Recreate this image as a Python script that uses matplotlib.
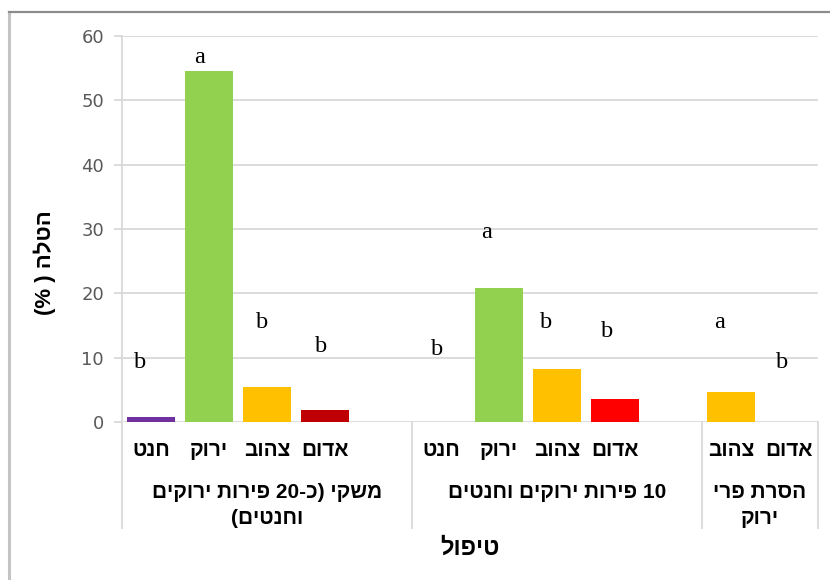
import re
import numpy as np
import matplotlib
matplotlib.use("Agg")
import matplotlib.pyplot as plt
import matplotlib.transforms as mtransforms
from matplotlib.lines import Line2D

HEB = ['Liberation Sans', 'DejaVu Sans']
SERIF = ['Liberation Serif', 'DejaVu Serif']

# treatment groups (x axis, second level)
groups = ["משקי (כ-20 פירות ירוקים\nוחנטים)", "10 פירות ירוקים וחנטים", "הסרת פרי\nירוק"]
# fruit colour classes inside each group (empty slot keeps excel spacing)
group_cats = [
    ["חנט", "ירוק", "צהוב", "אדום", ""],
    ["חנט", "ירוק", "צהוב", "אדום", ""],
    ["צהוב", "אדום"],
]
# drop (%)
group_values = [
    [0.7, 54.5, 5.4, 1.9, np.nan],
    [0.0, 20.8, 8.2, 3.6, np.nan],
    [4.6, 0.0],
]
group_colors = [
    ["#7030A0", "#92D050", "#FFC000", "#C00000", "none"],
    ["#7030A0", "#92D050", "#FFC000", "#FF0000", "none"],
    ["#FFC000", "#FF0000"],
]
# significance letters and the height they were written at
letters = [["b", "a", "b", "b", ""], ["b", "a", "b", "b", ""], ["a", "b"]]
letter_y = [[9.3, 56.6, 15.4, 11.7, 0], [11.2, 29.5, 15.4, 14.0, 0], [15.4, 9.3]]
letter_dx = [[-0.19, -0.16, -0.09, -0.07, 0], [-0.07, -0.22, -0.19, -0.14, 0], [-0.19, -0.12]]

yticks = [0, 10, 20, 30, 40, 50, 60]
ylabel = "הטלה ( %)"
xlabel = "טיפול"

GRID = "#d9d9d9"


def visual(s):
    # matplotlib has no bidi support: lay hebrew out right-to-left by hand
    out = s[::-1]
    out = re.sub(r"\d+", lambda m: m.group(0)[::-1], out)
    return out.translate(str.maketrans("()", ")("))


W, H = 830, 580
fig = plt.figure(figsize=(W / 100, H / 100), dpi=100)
ax = fig.add_axes([122 / W, 1 - 422 / H, 696 / W, 386 / H])
AX_H = 386


def below(px):
    # pixel row under the plot area -> axes fraction
    return -(px - 422) / AX_H


# slot positions
positions, values, colors, cat_labels = [], [], [], []
group_bounds = [-0.5]
slot = 0
for cats, vals, cols in zip(group_cats, group_values, group_colors):
    for c, v, col in zip(cats, vals, cols):
        positions.append(slot)
        values.append(v)
        colors.append(col)
        cat_labels.append(c)
        slot += 1
    group_bounds.append(slot - 0.5)

pos = np.array(positions)
vals = np.array(values, dtype=float)
ok = ~np.isnan(vals)
ax.bar(pos[ok], vals[ok], width=0.83, color=np.array(colors)[ok], zorder=3)

# letters
slot = 0
for let, ly, dx in zip(letters, letter_y, letter_dx):
    for l, y, d in zip(let, ly, dx):
        if l:
            ax.text(slot + d, y, l, ha="center", va="center", fontsize=17.5,
                    family=SERIF, color="black", zorder=4)
        slot += 1

ax.set_xlim(-0.5, slot - 0.5)
ax.set_ylim(0, 60)
ax.set_yticks(yticks)
ax.yaxis.grid(True, color=GRID, lw=1.3, zorder=0)
ax.set_axisbelow(True)
for s in ["top", "right", "bottom"]:
    ax.spines[s].set_visible(False)
ax.spines["left"].set_color(GRID)
ax.spines["left"].set_linewidth(1.3)
ax.tick_params(axis="y", colors=GRID, length=6, width=1.3, pad=7,
               labelcolor="#595959", labelsize=13)
for t in ax.get_yticklabels():
    t.set_family(['DejaVu Sans'])
ax.set_xticks([])

trans = mtransforms.blended_transform_factory(ax.transData, ax.transAxes)

# first level category names
for p, c in zip(pos, cat_labels):
    if c:
        ax.text(p, below(451), visual(c), transform=trans, ha="center",
                va="center", family=HEB, fontsize=15, fontweight="bold")

# category separators below the axis
for b in group_bounds:
    ax.add_line(Line2D([b, b], [0, below(528)], transform=trans,
                       color=GRID, lw=1.3, clip_on=False))

# group labels, one text per line
centers = [(group_bounds[i] + group_bounds[i + 1]) / 2 for i in range(len(groups))]
for cx, g in zip(centers, groups):
    for i, line in enumerate(g.split("\n")):
        ax.text(cx, below(492 + 26 * i), visual(line), transform=trans,
                ha="center", va="center", family=HEB, fontsize=15,
                fontweight="bold")

fig.text(470 / W, 1 - 548 / H, visual(xlabel), ha="center", va="center",
         family=HEB, fontsize=17, fontweight="bold")
fig.text(45 / W, 1 - 263 / H, visual(ylabel), ha="center", va="center",
         rotation=90, family=HEB, fontsize=16, fontweight="bold")

# chart area border
fig.add_artist(Line2D([9 / W, 9 / W], [0, 1 - 12 / H], transform=fig.transFigure,
                      color="#c4c4c4", lw=2.2))
fig.add_artist(Line2D([9 / W, 1], [1 - 12 / H, 1 - 12 / H], transform=fig.transFigure,
                      color="#8c8c8c", lw=1.6))

fig.savefig("out.png", dpi=100)
